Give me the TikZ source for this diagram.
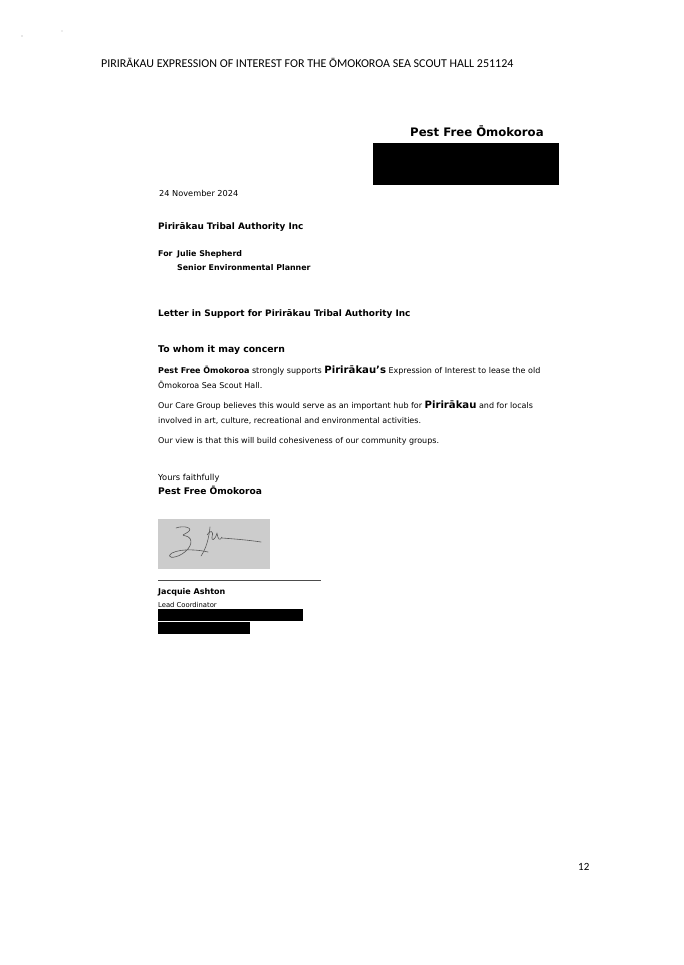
\documentclass[tikz,border=0pt]{standalone}
\usepackage{fontspec}
\setmainfont{DejaVu Sans}
\newfontfamily\hdrfont{Carlito}
\begin{document}
\begin{tikzpicture}[x=1pt,y=-1pt,
  txt/.style={inner sep=0pt, anchor=base west, font=\fontsize{8.0}{9}\selectfont},
  btxt/.style={txt, font=\fontsize{8.9}{10}\bfseries},
  redact/.style={fill=black, draw=none},
  sigink/.style={draw=black!65, line width=0.6pt, line cap=round, line join=round}]
\useasboundingbox[fill=white] (0,0) rectangle (683,965);
% scan specks
\fill[black!40] (22,36) circle (0.6);
\fill[black!30] (62,31) circle (0.6);
% header
\node[inner sep=0pt, anchor=base west, font=\hdrfont\fontsize{12}{13}\selectfont] (hdr) at (101,68)
  {PIRIRĀKAU EXPRESSION OF INTEREST FOR THE ŌMOKOROA SEA SCOUT HALL 251124};
% letterhead
\node[inner sep=0pt, anchor=base west, font=\fontsize{11.7}{14}\bfseries\selectfont] (lh) at (410,137) {Pest Free Ōmokoroa};
\path[redact] (373,143) rectangle (559,185);
% body
\node[txt, font=\fontsize{8.2}{9}\selectfont] (date) at (159,197) {24 November 2024};
\node[btxt] (pta) at (158,230) {Pirirākau Tribal Authority Inc};
\node[btxt, font=\fontsize{7.9}{9}\bfseries] (for) at (158,257) {For};
\node[btxt, font=\fontsize{7.9}{9}\bfseries] (julie) at (177,257) {Julie Shepherd};
\node[btxt, font=\fontsize{7.9}{9}\bfseries] (sep) at (177,271) {Senior Environmental Planner};
\node[btxt, font=\fontsize{8.9}{10}\bfseries] (subj) at (158,316) {Letter in Support for Pirirākau Tribal Authority Inc};
\node[btxt, font=\fontsize{9.3}{10}\bfseries] (twim) at (158,352) {To whom it may concern};
\node[txt] (p1a) at (158,373) {\textbf{Pest Free Ōmokoroa} strongly supports {\fontsize{10.1}{10}\bfseries Pirirākau's} Expression of Interest to lease the old};
\node[txt] (p1b) at (158,388) {Ōmokoroa Sea Scout Hall.};
\node[txt] (p2a) at (158,408) {Our Care Group believes this would serve as an important hub for {\fontsize{10.1}{10}\bfseries Pirirākau} and for locals};
\node[txt] (p2b) at (158,423) {involved in art, culture, recreational and environmental activities.};
\node[txt] (p3) at (158,443) {Our view is that this will build cohesiveness of our community groups.};
\node[txt, font=\fontsize{8.3}{9}\selectfont] (yf) at (158,480) {Yours faithfully};
\node[btxt, font=\fontsize{9.1}{10}\bfseries] (pfo) at (158,494) {Pest Free Ōmokoroa};
% signature
\fill[black!20] (158,519) rectangle (270,569);
\draw[sigink] (176,528) .. controls (184,525) and (194,528) .. (188,532)
  .. controls (184,535) and (180,535) .. (186,536)
  .. controls (194,538) and (192,548) .. (182,554)
  .. controls (174,559) and (165,558) .. (172,553)
  .. controls (182,548) and (200,550) .. (208,552);
\draw[sigink] (210,527) .. controls (209,538) and (206,549) .. (201,556);
\draw[sigink] (207,535) .. controls (210,530) and (214,530) .. (212,537)
  .. controls (211,541) and (215,541) .. (217,533)
  .. controls (218,540) and (220,541) .. (222,537);
\draw[sigink] (222,538) .. controls (235,539) and (248,540) .. (261,542);
\draw[black!70, line width=0.7pt] (158,580) -- (321,580);
\node[btxt, font=\fontsize{8.0}{9}\bfseries] (ja) at (158,594) {Jacquie Ashton};
\node[txt, font=\fontsize{6.8}{8}\selectfont] (lc) at (158,607) {Lead Coordinator};
\path[redact] (158,609) rectangle (303,621);
\path[redact] (158,622) rectangle (250,634);
% page number
\node[inner sep=0pt, anchor=base west, font=\hdrfont\fontsize{11}{12}\selectfont] (pg) at (578,870) {12};
\end{tikzpicture}
\end{document}
